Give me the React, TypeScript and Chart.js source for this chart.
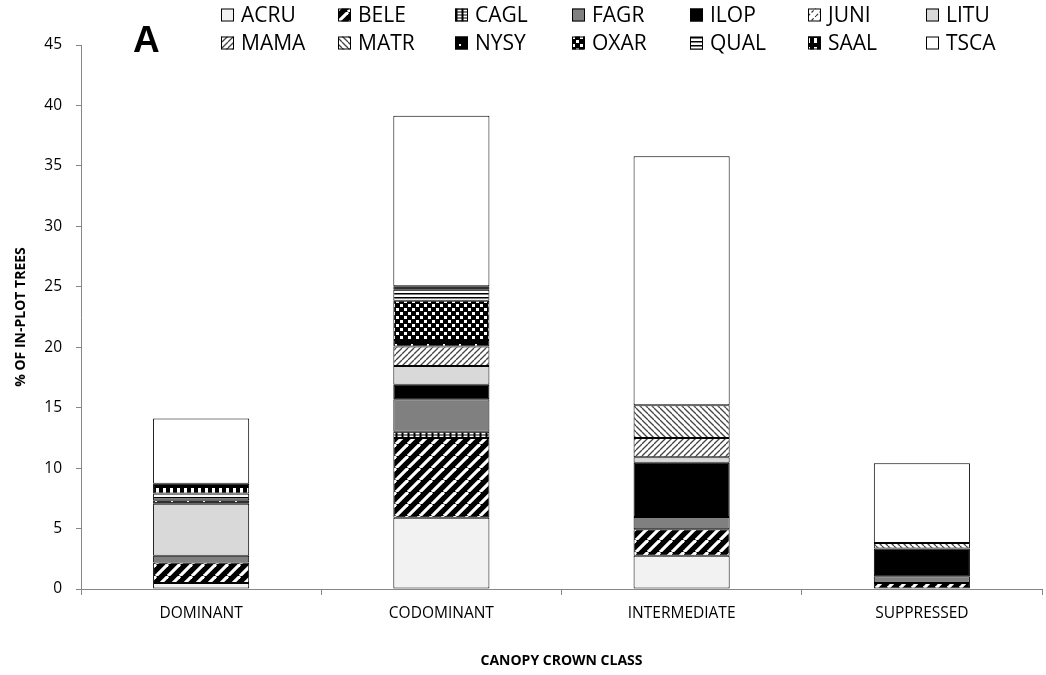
import React, { useEffect, useRef } from "react";
import { Chart, registerables } from "chart.js";
Chart.register(...registerables);

const categories = ["DOMINANT", "CODOMINANT", "INTERMEDIATE", "SUPPRESSED"];
const speciesNames = ["ACRU", "BELE", "CAGL", "FAGR", "ILOP", "JUNI", "LITU", "MAMA", "MATR", "NYSY", "OXAR", "QUAL", "SAAL", "TSCA"];

const ACRU = [0.5, 5.9, 2.75, 0];
const BELE = [1.7, 6.6, 2.2, 0.5];
const CAGL = [0, 0.5, 0, 0];
const FAGR = [0.55, 2.7, 1.0, 0.55];
const ILOP = [0, 1.2, 4.5, 2.3];
const JUNI = [0, 0, 0, 0];
const LITU = [4.3, 1.55, 0.45, 0];
const MAMA = [0, 1.6, 1.6, 0];
const MATR = [0, 0, 2.7, 0.45];
const NYSY = [0.3, 0.55, 0, 0];
const OXAR = [0, 3.25, 0, 0];
const QUAL = [0.55, 0.9, 0, 0];
const SAAL = [0.8, 0.3, 0, 0];
const TSCA = [5.4, 14.1, 20.6, 6.6];

const seriesValues = [ACRU, BELE, CAGL, FAGR, ILOP, JUNI, LITU, MAMA, MATR, NYSY, OXAR, QUAL, SAAL, TSCA];
const yTicks = [0, 5, 10, 15, 20, 25, 30, 35, 40, 45];

const FONT = "Open Sans";

function tile(w: number, h: number, draw: (c: CanvasRenderingContext2D) => void): CanvasPattern {
  const cv = document.createElement("canvas");
  cv.width = w;
  cv.height = h;
  const c = cv.getContext("2d")!;
  draw(c);
  return c.createPattern(cv, "repeat")!;
}

function diag(c: CanvasRenderingContext2D, s: number, dir: 1 | -1) {
  for (const k of [-s, 0, s]) {
    c.beginPath();
    if (dir === 1) {
      c.moveTo(k, s);
      c.lineTo(k + s, 0);
    } else {
      c.moveTo(k, 0);
      c.lineTo(k + s, s);
    }
    c.stroke();
  }
}

function makeFills(): (string | CanvasPattern)[] {
  const bele = tile(12, 12, (c) => {
    c.fillStyle = "#000";
    c.fillRect(0, 0, 12, 12);
    c.strokeStyle = "#fff";
    c.lineWidth = 3.2;
    diag(c, 12, 1);
  });
  const cagl = tile(6, 6, (c) => {
    c.fillStyle = "#000";
    c.fillRect(0, 0, 6, 6);
    c.fillStyle = "#fff";
    c.fillRect(1.5, 0.5, 4, 2);
    c.fillRect(1.5, 3.5, 4, 2);
  });
  const juni = tile(8, 8, (c) => {
    c.fillStyle = "#fff";
    c.fillRect(0, 0, 8, 8);
    c.strokeStyle = "#333";
    c.lineWidth = 1.2;
    c.setLineDash([3, 2]);
    diag(c, 8, 1);
  });
  const mama = tile(6, 6, (c) => {
    c.fillStyle = "#fff";
    c.fillRect(0, 0, 6, 6);
    c.strokeStyle = "#444";
    c.lineWidth = 1.3;
    diag(c, 6, 1);
  });
  const matr = tile(6, 6, (c) => {
    c.fillStyle = "#fff";
    c.fillRect(0, 0, 6, 6);
    c.strokeStyle = "#444";
    c.lineWidth = 1.3;
    diag(c, 6, -1);
  });
  const nysy = tile(16, 12, (c) => {
    c.fillStyle = "#000";
    c.fillRect(0, 0, 16, 12);
    c.fillStyle = "#fff";
    c.fillRect(3, 3, 2, 2);
    c.fillRect(11, 8, 2, 2);
  });
  const oxar = tile(8, 8, (c) => {
    c.fillStyle = "#000";
    c.fillRect(0, 0, 8, 8);
    c.fillStyle = "#fff";
    c.fillRect(0, 0, 3, 3);
    c.fillRect(4, 4, 3, 3);
  });
  const qual = tile(4, 4, (c) => {
    c.fillStyle = "#fff";
    c.fillRect(0, 0, 4, 4);
    c.fillStyle = "#000";
    c.fillRect(0, 1, 4, 1.5);
  });
  const saal = tile(7, 9, (c) => {
    c.fillStyle = "#000";
    c.fillRect(0, 0, 7, 9);
    c.fillStyle = "#fff";
    c.fillRect(2, 2, 3, 5);
  });
  return [
    "#f2f2f2", bele, cagl, "#808080", "#000000", juni, "#d9d9d9",
    mama, matr, nysy, oxar, qual, saal, "#ffffff",
  ];
}

const legendX = [221, 338, 455, 572, 690, 808, 926];
const legendY = [15, 43];

export default function App() {
  const ref = useRef<HTMLCanvasElement>(null);
  useEffect(() => {
    document.body.style.margin = "0";
    const fills = makeFills();
    const legendPlugin = {
      id: "customLegend",
      afterDraw(chart: any) {
        const ctx = chart.ctx as CanvasRenderingContext2D;
        ctx.save();
        speciesNames.forEach((name, i) => {
          const col = i % 7;
          const row = Math.floor(i / 7);
          const x = legendX[col];
          const cy = legendY[row];
          ctx.fillStyle = fills[i] as any;
          ctx.fillRect(x, cy - 6.5, 13, 13);
          ctx.strokeStyle = "#000";
          ctx.lineWidth = 1;
          ctx.strokeRect(x + 0.5, cy - 6, 12, 12);
          ctx.fillStyle = "#000";
          ctx.font = `21px "${FONT}"`;
          ctx.textBaseline = "middle";
          ctx.textAlign = "left";
          ctx.fillText(name, x + 20, cy + 1);
        });
        ctx.font = `bold 37px "Liberation Sans"`;
        ctx.textBaseline = "alphabetic";
        ctx.fillText("A", 133, 52);
        ctx.restore();
      },
    };
    const chart = new Chart(ref.current!, {
      type: "bar",
      data: {
        labels: categories,
        datasets: speciesNames.map((name, i) => ({
          label: name,
          data: seriesValues[i],
          backgroundColor: fills[i] as any,
          borderColor: "#000",
          borderWidth: 1,
          borderSkipped: false,
          barPercentage: 0.4,
          categoryPercentage: 1,
        })),
      },
      options: {
        animation: false,
        responsive: true,
        maintainAspectRatio: false,
        layout: { padding: { top: 45, right: 4, left: 0, bottom: 0 } },
        plugins: { legend: { display: false }, tooltip: { enabled: false }, title: { display: false } },
        scales: {
          x: {
            stacked: true,
            grid: { display: true, drawOnChartArea: false, drawTicks: true, tickLength: 6, color: "#868686", offset: true },
            border: { color: "#868686", width: 1 },
            ticks: { color: "#000", font: { family: FONT, size: 15.5 }, padding: 9 },
            title: {
              display: true,
              text: "CANOPY CROWN CLASS",
              color: "#000",
              font: { family: FONT, size: 14, weight: "bold" },
              padding: { top: 0, bottom: 6 },
            },
            afterFit: (s: any) => {
              s.height = 86;
            },
          },
          y: {
            stacked: true,
            min: 0,
            max: 45,
            afterBuildTicks: (s: any) => {
              s.ticks = yTicks.map((v) => ({ value: v }));
            },
            grid: { display: true, drawOnChartArea: false, drawTicks: true, tickLength: 5, color: "#868686" },
            border: { color: "#868686", width: 1 },
            ticks: { color: "#000", font: { family: FONT, size: 15.5 }, padding: 14 },
            title: {
              display: true,
              text: "% OF IN-PLOT TREES",
              color: "#000",
              font: { family: FONT, size: 14, weight: "bold" },
              padding: { top: 13, bottom: 0 },
            },
            afterFit: (s: any) => {
              s.width = 81;
            },
          },
        },
      },
      plugins: [legendPlugin],
    } as any);
    return () => chart.destroy();
  }, []);
  return (
    <div style={{ width: 1046, height: 675, position: "relative" }}>
      <canvas ref={ref} />
    </div>
  );
}
